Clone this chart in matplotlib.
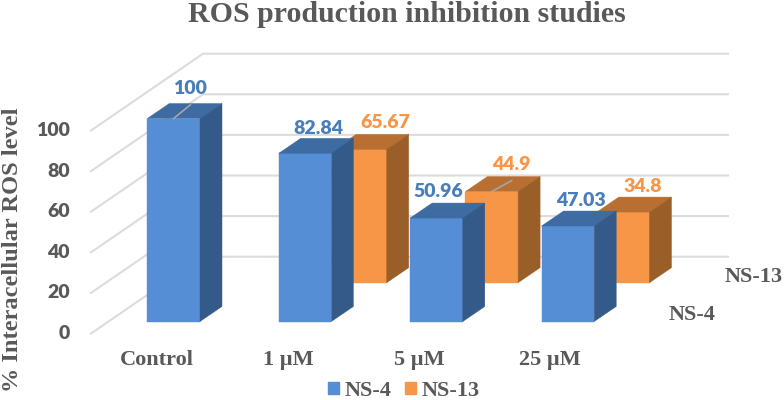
import matplotlib
matplotlib.use("Agg")
import matplotlib.pyplot as plt
from matplotlib.patches import Polygon, Patch

# ---- data ----
categories = ["Control", "1 µM", "5 µM", "25 µM"]
ns4_values = [100, 82.84, 50.96, 47.03]
ns13_values = [None, 65.67, 44.9, 34.8]
ns4_text = ["100", "82.84", "50.96", "47.03"]
ns13_text = [None, "65.67", "44.9", "34.8"]
y_ticks = [0, 20, 40, 60, 80, 100]
title = "ROS production inhibition studies"
y_title = "% Interacellular ROS level"

# ---- layout (pixels) ----
W, H = 784, 400
X0, Y0 = 173.65, 321.5     # centre of first bar, base of front series
SX, SY = 131.4, 2.03       # px per category, px per unit
BAR_W = 52.7
DEPTH_X, DEPTH_Y = 22, 15
ROW_X, ROW_Y = 55.3, 38.8  # offset of the back series
GRID_COLOR = "#dcdcdc"
TXT = "#595959"
BLUE = ("#558ed5", "#3e6ba1", "#335a88")
ORANGE = ("#f79646", "#b96f32", "#9a5e28")

fig = plt.figure(figsize=(W / 100, H / 100), dpi=100)
ax = fig.add_axes([0, 0, 1, 1])
ax.set_xlim(-X0 / SX, (W - X0) / SX)
ax.set_ylim((Y0 - H) / SY, Y0 / SY)
ax.axis("off")

def dx(p):
    return p / SX

def dy(p):
    return p / SY

def px_x(p):
    return (p - X0) / SX

def px_y(p):
    return (Y0 - p) / SY

# walls: left wall diagonals and back wall horizontals
for v in y_ticks:
    xs = [px_x(91), px_x(203), px_x(728)]
    yf = px_y(333.5) + v
    yb = px_y(256.7) + v
    ax.plot(xs, [yf, yb, yb], color=GRID_COLOR, lw=1.5, solid_joinstyle="miter", zorder=1)

def bar3d(i, value, colors, ox=0, oy=0, z=2):
    x0 = i - dx(BAR_W) / 2 + dx(ox)
    x1 = i + dx(BAR_W) / 2 + dx(ox)
    b = dy(oy)
    t = value + dy(oy)
    ddx, ddy = dx(DEPTH_X), dy(DEPTH_Y)
    faces = [
        ([(x0, b), (x1, b), (x1, t), (x0, t)], colors[0]),
        ([(x0, t), (x1, t), (x1 + ddx, t + ddy), (x0 + ddx, t + ddy)], colors[1]),
        ([(x1, b), (x1 + ddx, b + ddy), (x1 + ddx, t + ddy), (x1, t)], colors[2]),
    ]
    for pts, c in faces:
        ax.add_patch(Polygon(pts, closed=True, facecolor=c, edgecolor=c, lw=0.3, zorder=z))

for i, v in enumerate(ns13_values):
    if v is not None:
        bar3d(i, v, ORANGE, ROW_X, ROW_Y, z=2)
for i, v in enumerate(ns4_values):
    bar3d(i, v, BLUE, z=3)

# leader lines
ax.plot([0, dx(16.7)], [ns4_values[0], ns4_values[0] + dy(13.7)], color="#a6a6a6", lw=1.2, zorder=4)
ax.plot([2 + dx(ROW_X), 2 + dx(ROW_X + 20)],
        [ns13_values[2] + dy(ROW_Y), ns13_values[2] + dy(ROW_Y + 11)],
        color="#a6a6a6", lw=1.2, zorder=4)

# data labels
LAB = dict(family="Lato", fontweight="heavy", fontsize=14, ha="center", va="center", zorder=5)
ns4_label_px = [(190, 88), (318, 128), (438, 191.7), (580.7, 200)]
ns13_label_px = [None, (385, 122.7), (511.7, 164), (643, 186.7)]
for s, p in zip(ns4_text, ns4_label_px):
    ax.text(px_x(p[0]), px_y(p[1]), s, color="#4a7ebb", **LAB)
for s, p in zip(ns13_text, ns13_label_px):
    if s:
        ax.text(px_x(p[0]), px_y(p[1]), s, color="#f79646", **LAB)

# value axis labels
for v in y_ticks:
    ax.text(px_x(70), px_y(333.5) + v, str(v), color=TXT, family="Lato", fontweight="heavy",
            fontsize=14, ha="right", va="center")

SERIF = dict(family="Liberation Serif", fontweight="bold", color=TXT, ha="center", va="center")
ax.text(px_x(406.5), px_y(14), title, fontsize=21.5, **SERIF)
ax.text(px_x(12.5), px_y(250), y_title, rotation=90, fontsize=17.6, **SERIF)

# category labels
for s, xp in zip(categories, [157, 288.5, 419, 550]):
    ax.text(px_x(xp), px_y(360), s, fontsize=16, **SERIF)

# depth axis labels
ax.text(px_x(753.5), px_y(277), "NS-13", fontsize=16, **SERIF)
ax.text(px_x(692), px_y(315), "NS-4", fontsize=16, **SERIF)

# legend
handles = [Patch(color=BLUE[0], label="NS-4"), Patch(color=ORANGE[0], label="NS-13")]
leg = ax.legend(handles=handles, ncols=2, frameon=False, loc="center",
                bbox_to_anchor=(404 / W, 1 - 391 / H), bbox_transform=fig.transFigure,
                prop=dict(family="Liberation Serif", weight="bold", size=16),
                handlelength=0.5, handleheight=0.5, handletextpad=0.25, columnspacing=0.6,
                borderpad=0, borderaxespad=0)
for t in leg.get_texts():
    t.set_color(TXT)

fig.savefig("out.png", dpi=100)
